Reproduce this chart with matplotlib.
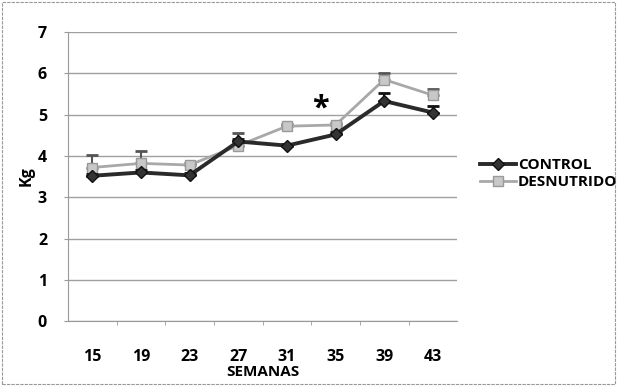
import matplotlib
matplotlib.use("Agg")
import matplotlib.pyplot as plt
from matplotlib.patches import Rectangle
from matplotlib.lines import Line2D

semanas = ["15", "19", "23", "27", "31", "35", "39", "43"]
control = [3.52, 3.60, 3.53, 4.35, 4.25, 4.52, 5.33, 5.05]
control_err = [0.05, 0.05, 0.05, 0.05, 0.05, 0.05, 0.20, 0.15]
desnutrido = [3.72, 3.82, 3.78, 4.25, 4.72, 4.75, 5.85, 5.47]
desnutrido_err = [0.30, 0.30, 0.05, 0.30, 0.05, 0.05, 0.15, 0.15]
yticks = [0, 1, 2, 3, 4, 5, 6, 7]

plt.rcParams['font.family'] = ['Open Sans', 'DejaVu Sans']

fig = plt.figure(figsize=(6.17, 3.86), dpi=100)
ax = fig.add_axes([0.110, 0.168, 0.631, 0.749])

x = list(range(len(semanas)))
ax.errorbar(x, desnutrido, yerr=[[0]*len(x), desnutrido_err], color='#a8a8a8',
            lw=2, marker='s', ms=7, mfc='#c8c8c8', mec='#999999',
            ecolor='#555555', elinewidth=1.5, capsize=4, capthick=2, zorder=3)
ax.errorbar(x, control, yerr=[[0]*len(x), control_err], color='#2a2a2a',
            lw=2.8, marker='D', ms=6, mfc='#333333', mec='#111111',
            ecolor='#111111', elinewidth=1.5, capsize=4, capthick=2, zorder=4)

ax.text(4.68, 5.15, '*', fontsize=22, fontweight='bold', ha='center', va='center')

ax.set_xlim(-0.5, len(x) - 0.5)
ax.set_ylim(0, 7)
ax.set_yticks(yticks)
ax.set_xticks(x)
ax.set_xticklabels(semanas)
ax.set_xticks([i + 0.5 for i in x[:-1]], minor=True)
for lab in ax.get_xticklabels() + ax.get_yticklabels():
    lab.set_fontweight('bold')
    lab.set_fontsize(11.5)
ax.tick_params(axis='x', which='major', length=0, pad=20)
ax.tick_params(axis='x', which='minor', length=3, color='#999999')
ax.tick_params(axis='y', length=3, color='#999999', pad=12)
ax.yaxis.grid(True, color='#a0a0a0', lw=1)
ax.set_axisbelow(True)
for s in ['top', 'right']:
    ax.spines[s].set_visible(False)
ax.spines['left'].set_color('#999999')
ax.spines['bottom'].set_color('#999999')
ax.spines['left'].set_linewidth(0.8)

ax.set_xlabel('SEMANAS', fontsize=11, fontweight='bold', labelpad=0)
ax.set_ylabel('Kg', fontsize=11.5, fontweight='bold', labelpad=2)

h_control = Line2D([], [], color='#2a2a2a', lw=2.8, marker='D', ms=6,
                   mfc='#333333', mec='#111111')
h_desn = Line2D([], [], color='#a8a8a8', lw=2, marker='s', ms=7,
                mfc='#c8c8c8', mec='#999999')
fig.legend([h_control, h_desn], ['CONTROL', 'DESNUTRIDO'], loc='center left',
           bbox_to_anchor=(0.755, 0.55), frameon=False,
           prop={'weight': 'bold', 'size': 11},
           handlelength=2.4, handletextpad=0.1, labelspacing=0.2)

fig.patches.append(Rectangle((0.003, 0.005), 0.994, 0.99, transform=fig.transFigure,
                             fill=False, ec='#999999', lw=0.8, ls=(0, (3, 1))))

fig.savefig('out.png', dpi=100)
